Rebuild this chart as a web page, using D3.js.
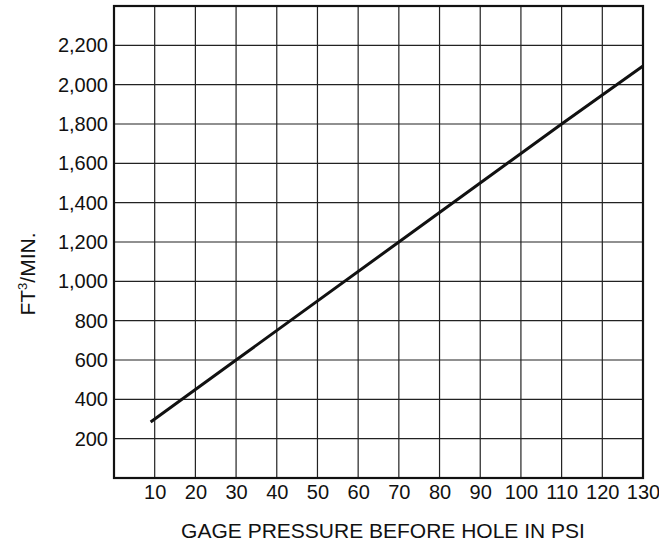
<!DOCTYPE html>
<html>
<head>
<meta charset="utf-8">
<script src="https://cdn.jsdelivr.net/npm/d3@7"></script>
<style>
  body { margin: 0; background: #fff; }
  text { font-family: "Liberation Sans", Arial, sans-serif; fill: #111; }
</style>
</head>
<body>
<div id="chart"></div>
<script>
const pressure = [9, 30, 70, 110, 130];
const flow = [285, 600, 1200, 1800, 2095];
const xTicks = [10, 20, 30, 40, 50, 60, 70, 80, 90, 100, 110, 120, 130];
const yTicks = [200, 400, 600, 800, 1000, 1200, 1400, 1600, 1800, 2000, 2200];

const width = 659;
const height = 548;
const margin = { top: 6, right: 16, bottom: 70, left: 114 };

const svg = d3.select("#chart")
              .append("svg")
              .attr("width", width)
              .attr("height", height);

const x = d3.scaleLinear().domain([0, 130]).range([margin.left, width - margin.right]);
const y = d3.scaleLinear().domain([0, 2400]).range([height - margin.bottom, margin.top]);

// grid
svg.append("g")
   .selectAll("line")
   .data(xTicks.slice(0, -1))
   .enter()
   .append("line")
   .attr("x1", d => x(d)).attr("x2", d => x(d))
   .attr("y1", y(0)).attr("y2", y(2400))
   .attr("stroke", "#222")
   .attr("stroke-width", 1.2);

svg.append("g")
   .selectAll("line")
   .data(yTicks)
   .enter()
   .append("line")
   .attr("x1", x(0)).attr("x2", x(130))
   .attr("y1", d => y(d)).attr("y2", d => y(d))
   .attr("stroke", "#222")
   .attr("stroke-width", 1.2);

// frame
svg.append("rect")
   .attr("x", x(0))
   .attr("y", y(2400))
   .attr("width", x(130) - x(0))
   .attr("height", y(0) - y(2400))
   .attr("fill", "none")
   .attr("stroke", "#111")
   .attr("stroke-width", 2.2);

// axes
const xAxis = svg.append("g")
   .attr("transform", `translate(0,${y(0)})`)
   .call(d3.axisBottom(x).tickValues(xTicks).tickSize(0).tickPadding(7));
xAxis.select(".domain").remove();
xAxis.selectAll("text")
     .style("font-size", "20px")
     .attr("font-family", null);

const yAxis = svg.append("g")
   .attr("transform", `translate(${x(0)},0)`)
   .call(d3.axisLeft(y).tickValues(yTicks).tickSize(0).tickPadding(6).tickFormat(d3.format(",")));
yAxis.select(".domain").remove();
yAxis.selectAll("text")
     .style("font-size", "20px")
     .attr("font-family", null);

// curve
svg.append("path")
   .datum(pressure.map((p, i) => [p, flow[i]]))
   .attr("fill", "none")
   .attr("stroke", "#111")
   .attr("stroke-width", 3)
   .attr("d", d3.line().x(d => x(d[0])).y(d => y(d[1])));

// titles
svg.append("text")
   .attr("x", 383)
   .attr("y", 538)
   .attr("text-anchor", "middle")
   .style("font-size", "21px")
   .text("GAGE PRESSURE BEFORE HOLE IN PSI");

const yTitle = svg.append("text")
   .attr("transform", "translate(35,274) rotate(-90)")
   .attr("text-anchor", "middle")
   .style("font-size", "21px");
yTitle.append("tspan").text("FT");
yTitle.append("tspan").attr("dy", -8).style("font-size", "13px").text("3");
yTitle.append("tspan").attr("dy", 8).text("/MIN.");
</script>
</body>
</html>
